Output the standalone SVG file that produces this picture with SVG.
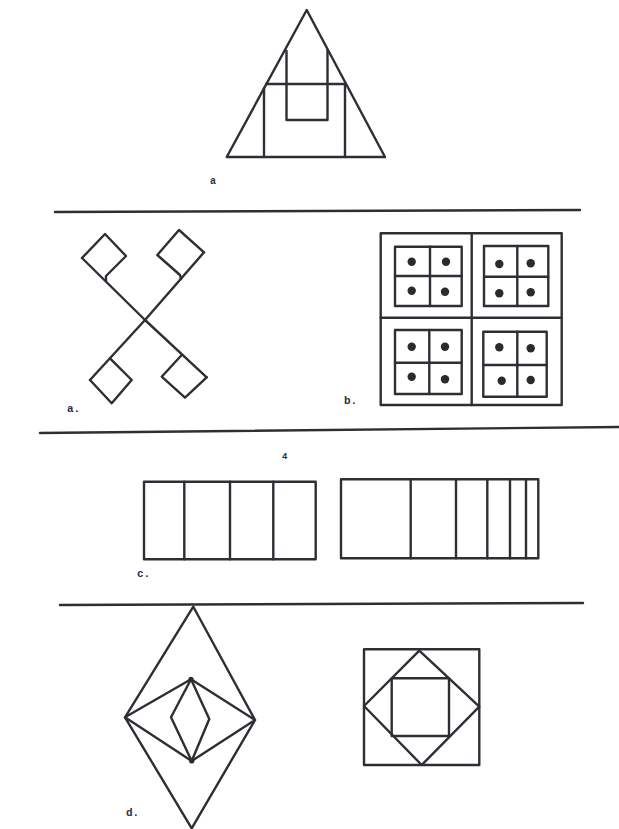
<svg xmlns="http://www.w3.org/2000/svg" width="619" height="829" viewBox="0 0 619 829">
<style>
.s{fill:none;stroke:#2e2e34;stroke-width:2.4;stroke-linejoin:round;stroke-linecap:round}
.d{fill:#2a2a30}
.t{font-family:"Liberation Mono",monospace;font-weight:bold;fill:#2e2e40}
</style>
<rect width="619" height="829" fill="#ffffff"/>
<g id="separators">
<path class="s" d="M55 212 L580 210"/>
<path class="s" d="M40 433 L619 427"/>
<path class="s" d="M60 605 L583 603"/>
</g>
<g id="triangle">
<path class="s" d="M306.7 10 L226.7 157 L385 157 Z"/>
<path class="s" d="M266 84 L346 84"/>
<path class="s" d="M264 88 L264 157 M345 84 L345 157"/>
<path class="s" d="M286.5 51 L286.5 120 L327.5 120 L327.5 50"/>
<text class="t" x="210" y="184" font-size="10">a</text>
</g>
<g id="fig-a">
<path class="s" d="M82 258 L145 320 L206.7 377.3"/>
<path class="s" d="M204 252.3 L145 320 L90 380"/>
<path class="s" d="M82 258 L105 234 L126 256 L106 276 L106 281"/>
<path class="s" d="M204 252.3 L179 230 L157.3 255 L180 275 L181 279"/>
<path class="s" d="M110 358.3 L131.7 380 L111.7 403.3 L90 380"/>
<path class="s" d="M181.7 355 L161.7 376.7 L185 397.7 L206.7 377.3"/>
<text class="t" x="67" y="412" font-size="11">a.</text>
</g>
<g id="fig-b">
<rect class="s" x="380.7" y="233.3" width="181" height="171.7"/>
<path class="s" d="M471.7 233.3 L471.7 405 M380.7 317.7 L561.7 317.7"/>
<rect class="s" x="395" y="246.7" width="66.7" height="59.3"/>
<path class="s" d="M430 246.7 L430 306 M395 276 L461.7 276"/>
<rect class="s" x="484" y="246" width="64.3" height="60"/>
<path class="s" d="M517.3 246 L517.3 306 M484 276.7 L548.3 276.7"/>
<rect class="s" x="395" y="330" width="66.7" height="64"/>
<path class="s" d="M429.3 330 L429.3 394 M395 362.7 L461.7 362.7"/>
<rect class="s" x="483.3" y="331.7" width="63.4" height="65"/>
<path class="s" d="M517.3 331.7 L517.3 396.7 M483.3 365 L546.7 365"/>
<circle class="d" cx="411.7" cy="261.7" r="4.2"/>
<circle class="d" cx="446" cy="261.7" r="4.2"/>
<circle class="d" cx="411.7" cy="290.7" r="4.2"/>
<circle class="d" cx="445" cy="291.7" r="4.2"/>
<circle class="d" cx="499.3" cy="264" r="4.2"/>
<circle class="d" cx="530.7" cy="263.3" r="4.2"/>
<circle class="d" cx="499.3" cy="293.3" r="4.2"/>
<circle class="d" cx="530.7" cy="292.3" r="4.2"/>
<circle class="d" cx="411.7" cy="346.7" r="4.2"/>
<circle class="d" cx="445" cy="346.7" r="4.2"/>
<circle class="d" cx="411.7" cy="376.7" r="4.2"/>
<circle class="d" cx="445" cy="379.3" r="4.2"/>
<circle class="d" cx="499.3" cy="347.3" r="4.2"/>
<circle class="d" cx="530.7" cy="348.3" r="4.2"/>
<circle class="d" cx="501.7" cy="380.7" r="4.2"/>
<circle class="d" cx="530.7" cy="380" r="4.2"/>
<text class="t" x="344" y="404" font-size="11">b.</text>
</g>
<g id="mark">
<text class="t" x="282" y="459" font-size="9">4</text>
</g>
<g id="fig-c">
<rect class="s" x="144" y="481.7" width="171.7" height="77.6"/>
<path class="s" d="M184.3 481.7 L184.3 559.3 M230 481.7 L230 559.3 M273.3 481.7 L273.3 559.3"/>
<rect class="s" x="341" y="479.3" width="197.3" height="79"/>
<path class="s" d="M410.7 479.3 L410.7 558.3 M456 479.3 L456 558.3 M487.3 479.3 L487.3 558.3 M510 479.3 L510 558.3 M526 479.3 L526 558.3"/>
<text class="t" x="137" y="577" font-size="11">c.</text>
</g>
<g id="fig-d-left">
<path class="s" d="M193.3 606.7 L255 720 L191.7 828.3 L125 717.3 Z"/>
<path class="s" d="M125 717.3 L191 679.3 L255 720 L191.7 761 Z"/>
<path class="s" d="M191 679.3 L209.3 719 L191.7 761 L171 717.3 Z"/>
<circle class="d" cx="191" cy="679.3" r="2.6"/>
<circle class="d" cx="191.7" cy="761" r="2.6"/>
<text class="t" x="126" y="816" font-size="11">d.</text>
</g>
<g id="fig-d-right">
<rect class="s" x="364" y="649.3" width="115.3" height="115.7"/>
<path class="s" d="M419.3 650.7 L479.3 706.7 L421.7 765 L364 706 Z"/>
<rect class="s" x="391.7" y="678.3" width="57.3" height="57.7"/>
</g>
</svg>
